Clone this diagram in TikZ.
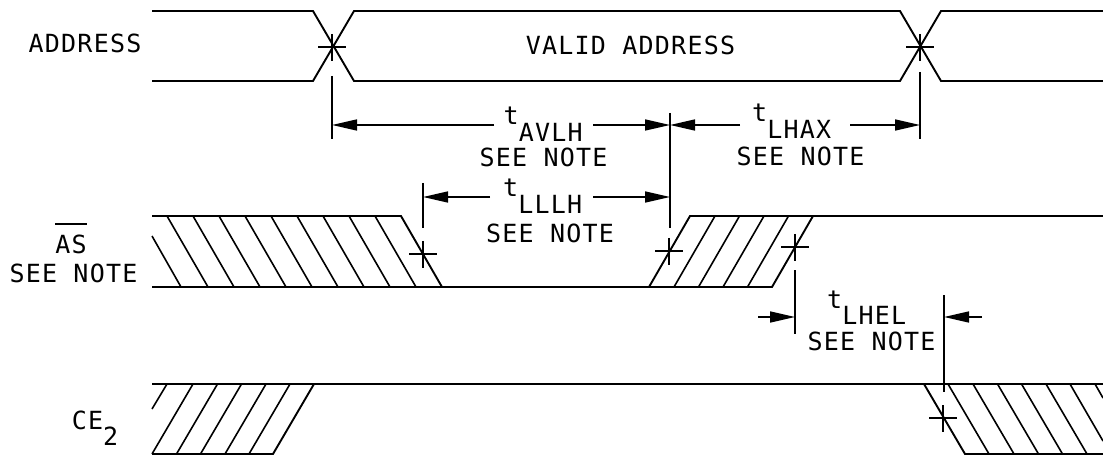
\documentclass[tikz,border=0pt]{standalone}
\usepackage{fontspec}
\setmainfont{DejaVu Sans Mono}[LetterSpace=5]
\usetikzlibrary{arrows.meta}
\newcommand{\tsub}[1]{t\raisebox{-16.5pt}{#1}}

\begin{document}
\begin{tikzpicture}[x=1pt,y=-1pt,
    trace/.style ={line width=1.9pt},
    hatch/.style ={line width=1.6pt},
    tick/.style ={line width=1.5pt},
    dim/.style ={line width=1.6pt, -{Triangle[length=25pt,width=11pt]}},
    signal/.style ={font=\fontsize{25}{30}\selectfont, inner sep=0pt, anchor=base}]
   \useasboundingbox (0,0) rectangle (1103,457);

   % labels
   \node[signal] (address) at (85,53)  {ADDRESS};
   \node[signal] (valid) at (630.5,54.5)  {VALID ADDRESS};
   \node[signal] (as) at (71,253)  {AS};
   \node[signal] (asnote) at (73.5,282)  {SEE NOTE};
   \node[signal] (ce) at (95,429)  {CE\raisebox{-16pt}{2}};
   \node[signal] (avlh) at (543.2,125)  {\tsub{AVLH}};
   \node[signal] (avlhnote) at (543.5,167)  {SEE NOTE};
   \node[signal] (lhax) at (791.7,122)  {\tsub{LHAX}};
   \node[signal] (lhaxnote) at (800.5,166)  {SEE NOTE};
   \node[signal] (lllh) at (542.7,197)  {\tsub{LLLH}};
   \node[signal] (lllhnote) at (550,243)  {SEE NOTE};
   \node[signal] (lhel) at (866.7,308)  {\tsub{LHEL}};
   \node[signal] (lhelnote) at (871.5,350)  {SEE NOTE};
   \draw[tick] ([yshift=10pt]as.north west) to ([yshift=10pt]as.north east);

   % address
   \draw[trace] (152,11) -- (313,11) -- (354,81) -- (900,81) -- (941,11) -- (1103,11);
   \draw[trace] (152,81) -- (313,81) -- (354,11) -- (900,11) -- (941,81) -- (1103,81);

   % as
   \draw[trace] (152,216) -- (401,216) -- (442,287);
   \draw[trace] (152,287) -- (772,287) -- (813,216) -- (1103,216);
   \draw[trace] (649,287) -- (690,216) -- (813,216);
   \draw[hatch] (152,236) -- (181,287);
   \foreach \x in {167,193,219,245,271,297,323,349,375}
      \draw[hatch] (\x,216) -- (\x+41,287);
   \foreach \x in {674,698.5,723,747.5}
      \draw[hatch] (\x,287) -- (\x+41,216);

   % ce
   \draw[trace] (152,384) -- (1103,384);
   \draw[trace] (152,454) -- (273,454) -- (314,384);
   \draw[trace] (924,384) -- (965,454) -- (1103,454);
   \draw[hatch] (152,409) -- (167,384);
   \foreach \x in {152,176.5,200.5,225,249}
      \draw[hatch] (\x,454) -- (\x+41,384);
   \foreach \x in {948,973,997.5,1021.5,1046}
      \draw[hatch] (\x,384) -- (\x+41,454);
   \draw[hatch] (1070,384) -- (1103,441);
   \draw[hatch] (1095,384) -- (1103,398);

   % crossings
   \foreach \x/\y in {332/47,920/47,423/254,669/251,795/247,943/418} {
      \draw[tick] (\x-14,\y) -- (\x+14,\y);
      \draw[tick] (\x,\y-13) -- (\x,\y+14);
   }

   % extension lines
   \coordinate (A) at (332,125);
   \coordinate (B) at (670,125);
   \coordinate (C) at (920,125);
   \coordinate (D) at (423,197);
   \coordinate (E) at (670,197);
   \coordinate (F) at (795,317);
   \coordinate (G) at (944,317);
   \draw[tick] (332,76) -- (A) -- (332,139);
   \draw[tick] (670,113) -- (B) -- (E) -- (670,228);
   \draw[tick] (920,72) -- (C) -- (920,139);
   \draw[tick] (423,183) -- (D) -- (423,228);
   \draw[tick] (795,270) -- (F) -- (795,334);
   \draw[tick] (944,295) -- (G) -- (944,392);

   % dimensions
   \draw[dim] (494,125) -- (A);
   \draw[dim] (593,125) -- (B);
   \draw[dim] (740,125) -- (B);
   \draw[dim] (850,125) -- (C);
   \draw[dim] (490,197) -- (D);
   \draw[dim] (593,197) -- (E);
   \draw[dim] (758,317) -- (F);
   \draw[dim] (982,317) -- (G);
 \end{tikzpicture}
\end{document}
